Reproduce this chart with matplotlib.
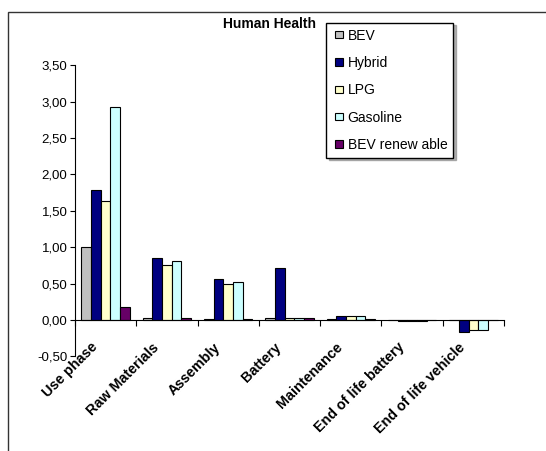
import matplotlib
matplotlib.use("Agg")
import matplotlib.pyplot as plt
import matplotlib.patches as mpatches
from matplotlib.legend_handler import HandlerPatch
import numpy as np

categories = ["Use phase", "Raw Materials", "Assembly", "Battery", "Maintenance",
              "End of life battery", "End of life vehicle"]
series_names = ["BEV", "Hybrid", "LPG", "Gasoline", "BEV renew able"]
bev = [1.00, 0.03, 0.01, 0.03, 0.01, 0.00, 0.00]
hybrid = [1.79, 0.85, 0.56, 0.72, 0.05, -0.01, -0.16]
lpg = [1.64, 0.75, 0.49, 0.03, 0.05, -0.01, -0.14]
gasoline = [2.92, 0.81, 0.52, 0.03, 0.05, -0.01, -0.14]
bev_renew = [0.18, 0.03, 0.01, 0.03, 0.01, 0.00, 0.00]
yticks = [-0.5, 0.0, 0.5, 1.0, 1.5, 2.0, 2.5, 3.0, 3.5]
ytick_labels = ["-0,50", "0,00", "0,50", "1,00", "1,50", "2,00", "2,50", "3,00", "3,50"]

colors = ["#C0C0C0", "#000080", "#FFFFCC", "#CCFFFF", "#660066"]
series = [bev, hybrid, lpg, gasoline, bev_renew]

plt.rcParams['font.family'] = ['Liberation Sans', 'DejaVu Sans']

W, H = 546, 451
fig = plt.figure(figsize=(W / 100, H / 100), dpi=100)

# outer chart frame (cropped at right and bottom)
frame = mpatches.Rectangle((8.4 / W, -0.1), 1.2, 1 - 11.5 / H + 0.1,
                           transform=fig.transFigure, fill=False,
                           edgecolor="#333333", linewidth=1.0)
fig.patches.append(frame)

left, right = 75.0 / W, 504.0 / W
top, bottom = 1 - 65.3 / H, 1 - 356.3 / H
ax = fig.add_axes([left, bottom, right - left, top - bottom])

x = np.arange(len(categories))
w = 0.158
handles = []
for k, (vals, c, name) in enumerate(zip(series, colors, series_names)):
    b = ax.bar(x + (k - 2) * w, vals, width=w, color=c, edgecolor="black",
               linewidth=0.8, label=name)
    handles.append(b)

ax.set_xlim(-0.5, len(categories) - 0.5)
ax.set_ylim(-0.5, 3.5)
ax.set_yticks(yticks)
ax.set_yticklabels(ytick_labels, fontsize=9.5)
ax.tick_params(axis='y', direction='out', length=3.5, width=0.8, pad=2)

ax.spines['top'].set_visible(False)
ax.spines['right'].set_visible(False)
ax.spines['bottom'].set_position(('data', 0))
ax.spines['left'].set_linewidth(0.8)
ax.spines['bottom'].set_linewidth(0.8)
ax.set_xticks(np.arange(-0.5, len(categories), 1.0))
ax.set_xticklabels([])
ax.tick_params(axis='x', direction='out', length=4, width=0.8)

for i, cat in enumerate(categories):
    ax.text(i - 0.12, -0.385, cat, rotation=45,
            rotation_mode='anchor', ha='right', va='baseline',
            fontsize=10.3, fontweight='bold')

fig.text(269.5 / W, 1 - 24 / H, "Human Health", ha='center', va='center',
         fontsize=10, fontweight='bold')


def small_square(legend, orig_handle, xdescent, ydescent, width, height, fontsize):
    s = 5.4
    return mpatches.Rectangle((-xdescent + width - s, -ydescent + (height - s) / 2), s, s)


leg = fig.legend(handles=[h.patches[0] for h in handles], labels=series_names,
                 loc='upper left', bbox_to_anchor=(326 / W, 1 - 22.7 / H), fontsize=10,
                 frameon=True, fancybox=False, edgecolor='black', framealpha=1,
                 handlelength=0.77, handleheight=0.7, handletextpad=0.36,
                 labelspacing=0.96, borderpad=0.42, borderaxespad=0,
                 shadow={'color': '#909090', 'alpha': 0.7},
                 handler_map={mpatches.Rectangle: HandlerPatch(patch_func=small_square)})
leg.get_frame().set_linewidth(1.0)

fig.savefig("out.png", dpi=100)
